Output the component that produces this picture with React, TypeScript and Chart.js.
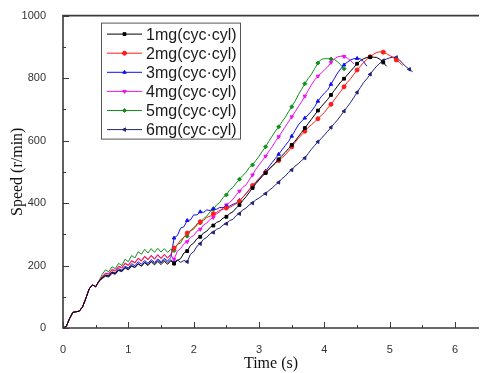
import React, { useEffect, useRef } from 'react';
import { Chart, registerables } from 'chart.js';
import { drawPoint } from 'chart.js/helpers';

Chart.register(...registerables);

const TIME = [
  0, 0.05, 0.1, 0.15, 0.2, 0.25, 0.3, 0.35, 0.4, 0.45,
  0.5, 0.55, 0.6, 0.65, 0.7, 0.75, 0.8, 0.85, 0.9, 0.95,
  1.0, 1.05, 1.1, 1.15, 1.2, 1.25, 1.3, 1.35, 1.4, 1.45,
  1.5, 1.55, 1.6, 1.65, 1.7, 1.75, 1.8, 1.85, 1.9, 1.95,
  2.0, 2.05, 2.1, 2.15, 2.2, 2.25, 2.3, 2.35, 2.4, 2.45,
  2.5, 2.55, 2.6, 2.65, 2.7, 2.75, 2.8, 2.85, 2.9, 2.95,
  3.0, 3.05, 3.1, 3.15, 3.2, 3.25, 3.3, 3.35, 3.4, 3.45,
  3.5, 3.55, 3.6, 3.65, 3.7, 3.75, 3.8, 3.85, 3.9, 3.95,
  4.0, 4.05, 4.1, 4.15, 4.2, 4.25, 4.3, 4.35, 4.4, 4.45,
  4.5, 4.55, 4.6, 4.65, 4.7, 4.75, 4.8, 4.85, 4.9, 4.95,
  5.0, 5.05, 5.1, 5.15, 5.2, 5.25, 5.3, 5.35, 5.4,
];

// shared start-up segment (t = 0 .. 0.55 s)
const START = [0, 5, 30, 50, 52, 54, 68, 95, 125, 138, 132, 150];

const MG1 = [...START,
  160, 168, 166, 178, 174, 186, 182, 194, 188, 200,
  194, 206, 198, 210, 200, 212, 202, 213, 203, 214,
  204, 215, 206, 216, 222, 240, 246, 264, 272, 286,
  292, 304, 310, 322, 328, 338, 342, 352, 356, 366,
  372, 384, 394, 408, 420, 434, 448, 462, 474, 486,
  496, 508, 518, 528, 540, 552, 562, 574, 586, 598,
  612, 626, 640, 654, 668, 682, 696, 708, 720, 732,
  746, 760, 774, 788, 798, 810, 822, 834, 846, 856,
  862, 866, 867, 867, 866, 860, 850, 838];

const MG2 = [...START,
  164, 174, 172, 186, 182, 196, 192, 206, 200, 214,
  208, 222, 214, 228, 218, 231, 220, 233, 222, 234,
  224, 236, 256, 266, 282, 290, 304, 310, 322, 328,
  340, 344, 354, 358, 366, 370, 377, 380, 384, 386,
  392, 398, 406, 418, 430, 444, 456, 468, 478, 488,
  498, 508, 518, 528, 536, 545, 554, 566, 580, 594,
  607, 618, 630, 642, 650, 660, 670, 680, 690, 704,
  716, 730, 744, 758, 772, 786, 798, 812, 826, 838,
  850, 860, 868, 876, 882, 884, 883, 878, 872, 866,
  858, 850, 840];

const MG3 = [...START,
  160, 170, 167, 180, 176, 190, 185, 198, 192, 206,
  199, 212, 204, 216, 207, 219, 210, 221, 212, 223,
  214, 226, 288, 296, 320, 324, 344, 346, 362, 362,
  372, 370, 378, 376, 382, 380, 386, 385, 390, 390,
  396, 400, 408, 418, 430, 442, 452, 466, 478, 490,
  502, 516, 530, 543, 556, 570, 584, 597, 614, 632,
  650, 662, 672, 682, 694, 708, 726, 740, 752, 762,
  780, 798, 816, 830, 842, 851, 858, 862, 863, 862,
  852, 838];

const MG4 = [...START,
  165, 176, 174, 188, 184, 198, 194, 208, 202, 216,
  210, 224, 216, 230, 220, 233, 222, 235, 224, 236,
  225, 234, 220, 246, 254, 270, 276, 290, 296, 310,
  316, 330, 336, 348, 354, 366, 372, 386, 394, 402,
  412, 426, 438, 450, 458, 474, 490, 508, 522, 536,
  550, 566, 580, 597, 612, 628, 644, 660, 676, 692,
  708, 724, 742, 760, 778, 794, 806, 816, 826, 836,
  850, 861, 868, 870, 869, 864, 856, 846];

const MG5 = [...START,
  172, 186, 180, 196, 190, 207, 200, 220, 212, 232,
  224, 244, 236, 252, 240, 254, 242, 255, 243, 254,
  242, 252, 248, 268, 272, 292, 294, 312, 316, 334,
  336, 350, 358, 372, 380, 394, 402, 418, 426, 442,
  450, 464, 476, 488, 498, 514, 522, 536, 550, 566,
  580, 598, 614, 630, 644, 660, 674, 692, 708, 726,
  746, 764, 782, 798, 812, 830, 848, 860, 862, 862,
  861, 860, 852, 842, 830];

const MG6 = [...START,
  158, 166, 163, 175, 172, 184, 180, 192, 186, 198,
  193, 205, 198, 210, 203, 214, 206, 216, 208, 218,
  209, 218, 210, 218, 210, 216, 212, 236, 244, 262,
  270, 284, 290, 302, 306, 316, 320, 330, 334, 344,
  348, 360, 366, 378, 384, 394, 400, 410, 416, 424,
  430, 440, 448, 458, 466, 478, 486, 498, 506, 518,
  526, 536, 544, 558, 572, 584, 596, 606, 618, 630,
  642, 654, 666, 680, 694, 708, 722, 738, 754, 770,
  786, 798, 812, 826, 838, 848, 856, 861, 865, 867,
  866, 858, 846, 836, 828, 820];

const SERIES_LABELS = ['1mg(cyc·cyl)', '2mg(cyc·cyl)', '3mg(cyc·cyl)', '4mg(cyc·cyl)', '5mg(cyc·cyl)', '6mg(cyc·cyl)'];
const SERIES_VALUES = [MG1, MG2, MG3, MG4, MG5, MG6];
const SERIES_COLORS = ['#000000', '#ff1a1a', '#1010f0', '#ee10ee', '#10901a', '#22227a'];
const SERIES_MARKERS = ['rect', 'circle', 'triangle', 'triangle', 'rectRot', 'triangle'];
const SERIES_ROT = [0, 0, 0, 180, 0, -90];

const X_MAJOR = [0, 1, 2, 3, 4, 5, 6];
const X_MINOR = [0.5, 1.5, 2.5, 3.5, 4.5, 5.5];
const Y_MAJOR = [0, 200, 400, 600, 800, 1000];
const Y_MINOR = [100, 300, 500, 700, 900];

const AXIS_COLOR = '#3a3a3a';
const SANS = '"Liberation Sans", Arial, sans-serif';
const SERIF = '"Liberation Serif", "Times New Roman", serif';

const frameAndLegend = {
  id: 'frameAndLegend',
  afterDraw(chart: any) {
    const { ctx, chartArea } = chart;
    const xs = chart.scales.x;
    const ys = chart.scales.y;
    ctx.save();
    ctx.strokeStyle = AXIS_COLOR;
    ctx.lineWidth = 1;
    // inward ticks
    ctx.beginPath();
    X_MAJOR.forEach((v) => {
      const p = Math.round(xs.getPixelForValue(v)) + 0.5;
      ctx.moveTo(p, chartArea.bottom);
      ctx.lineTo(p, chartArea.bottom - 6);
    });
    X_MINOR.forEach((v) => {
      const p = Math.round(xs.getPixelForValue(v)) + 0.5;
      ctx.moveTo(p, chartArea.bottom);
      ctx.lineTo(p, chartArea.bottom - 3);
    });
    Y_MAJOR.forEach((v) => {
      const p = Math.round(ys.getPixelForValue(v)) + 0.5;
      ctx.moveTo(chartArea.left, p);
      ctx.lineTo(chartArea.left + 6, p);
    });
    Y_MINOR.forEach((v) => {
      const p = Math.round(ys.getPixelForValue(v)) + 0.5;
      ctx.moveTo(chartArea.left, p);
      ctx.lineTo(chartArea.left + 3, p);
    });
    ctx.stroke();
    // frame: left, bottom, top
    ctx.lineWidth = 1.6;
    ctx.beginPath();
    ctx.moveTo(chartArea.right, chartArea.top);
    ctx.lineTo(chartArea.left, chartArea.top);
    ctx.lineTo(chartArea.left, chartArea.bottom);
    ctx.lineTo(chartArea.right, chartArea.bottom);
    ctx.stroke();

    // legend
    const lx = chartArea.left + 38;
    const ly = chartArea.top + 7;
    const lw = 139;
    const lh = 116;
    ctx.fillStyle = '#ffffff';
    ctx.fillRect(lx, ly, lw, lh);
    ctx.strokeStyle = '#555555';
    ctx.lineWidth = 1;
    ctx.strokeRect(lx + 0.5, ly + 0.5, lw, lh);
    ctx.font = '16px ' + SANS;
    ctx.textBaseline = 'middle';
    ctx.textAlign = 'left';
    chart.data.datasets.forEach((ds: any, i: number) => {
      const y = ly + 11.5 + i * 19.1;
      ctx.strokeStyle = ds.borderColor;
      ctx.fillStyle = ds.borderColor;
      ctx.lineWidth = 1;
      ctx.beginPath();
      ctx.moveTo(lx + 6, y);
      ctx.lineTo(lx + 41, y);
      ctx.stroke();
      drawPoint(ctx, { pointStyle: ds.pointStyle, radius: 2, rotation: ds.pointRotation, borderWidth: 1 }, lx + 23.5, y);
      ctx.fillStyle = '#1a1a1a';
      ctx.fillText(ds.label, lx + 45, y + 1);
    });
    ctx.restore();
  },
};

export default function App() {
  const ref = useRef<HTMLCanvasElement | null>(null);
  useEffect(() => {
    if (!ref.current) return;
    const datasets = SERIES_VALUES.map((vals, k) => ({
      label: SERIES_LABELS[k],
      data: vals.map((v, i) => ({ x: TIME[i], y: v })),
      borderColor: SERIES_COLORS[k],
      backgroundColor: SERIES_COLORS[k],
      borderWidth: 1,
      tension: 0,
      pointStyle: SERIES_MARKERS[k],
      pointRotation: SERIES_ROT[k],
      pointRadius: (c: any) => (c.dataIndex >= 34 && (c.dataIndex - 34) % 4 === 0 ? 2 : 0),
      pointBorderWidth: 1,
      pointHoverRadius: 0,
    }));
    const chart = new Chart(ref.current, {
      type: 'line',
      data: { datasets },
      options: {
        animation: false,
        responsive: false,
        events: [],
        layout: { padding: { top: 13, left: 0, right: 0, bottom: 0 } },
        plugins: { legend: { display: false }, tooltip: { enabled: false } },
        scales: {
          x: {
            type: 'linear',
            min: 0,
            max: 6.365,
            grid: { display: false },
            border: { display: false },
            ticks: { stepSize: 1, includeBounds: false, padding: 7, color: '#333', font: { family: SANS, size: 11 }, callback: (v: any) => String(v) },
            title: { display: true, text: 'Time (s)', color: '#111', font: { family: SERIF, size: 16 }, padding: { top: 0, bottom: 0 } },
            afterFit: (s: any) => { s.height = 45; },
          },
          y: {
            type: 'linear',
            min: 0,
            max: 1000,
            grid: { display: false },
            border: { display: false },
            ticks: { stepSize: 200, padding: 9, color: '#333', font: { family: SANS, size: 11 }, callback: (v: any) => String(v) },
            title: { display: true, text: 'Speed (r/min)', color: '#111', font: { family: SERIF, size: 16 }, padding: { top: 8, bottom: 0 } },
            afterFit: (s: any) => { s.width = 63; },
          },
        },
      },
      plugins: [frameAndLegend],
    } as any);
    return () => chart.destroy();
  }, []);
  return (
    <div style={{ position: 'absolute', left: 0, top: 0, width: 482, height: 373, background: '#fff' }}>
      <canvas ref={ref} width={482} height={373} style={{ display: 'block' }} />
    </div>
  );
}
